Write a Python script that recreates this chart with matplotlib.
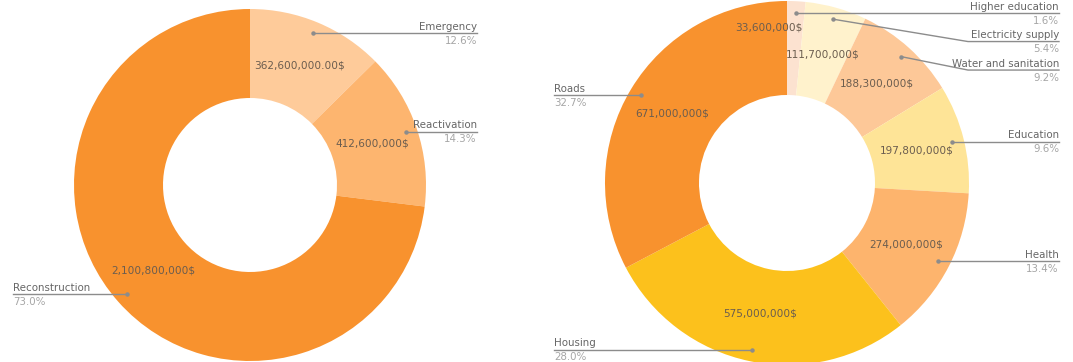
import numpy as np
import matplotlib.pyplot as plt

# ---- data ----
phase_names = ["Emergency", "Reactivation", "Reconstruction"]
phase_values = [362600000, 412600000, 2100800000]
phase_decimals = [2, 0, 0]
phase_colors = ["#FECB9A", "#FDB56F", "#F8922E"]

sector_names = ["Higher education", "Electricity supply", "Water and sanitation",
                "Education", "Health", "Housing", "Roads"]
sector_values = [33600000, 111700000, 188300000, 197800000,
                 274000000, 575000000, 671000000]
sector_decimals = [0, 0, 0, 0, 0, 0, 0]
sector_colors = ["#FCE2D0", "#FFF2CC", "#FDC898", "#FEE497",
                 "#FDB46D", "#FCC11C", "#F8922E"]

W, H = 1073, 362
NAME_C = "#666666"
PCT_C = "#A6A6A6"
VAL_C = "#6B5D4F"
LINE_C = "#8C8C8C"

fig = plt.figure(figsize=(W / 100, H / 100), dpi=100)
ax = fig.add_axes([0, 0, 1, 1])


def donut(values, names, colors, decimals, cx, cy, R, r_in, left_x, right_x,
          val_nudge=None, elbow_x=None):
    val_nudge = val_nudge or {}
    ax.pie(values, colors=colors, startangle=90, counterclock=False,
           radius=R, center=(cx, cy), wedgeprops=dict(width=R - r_in, linewidth=0))
    total = float(sum(values))
    frac = np.array(values) / total
    mids = 90 - 360 * (np.cumsum(frac) - frac / 2)

    # value labels inside the ring
    for i, (v, a) in enumerate(zip(values, mids)):
        da, rr = val_nudge.get(i, (0, 0.735))
        t = np.radians(a + da)
        ax.text(cx + rr * R * np.cos(t), cy + rr * R * np.sin(t),
                f"{v:,.{decimals[i]}f}$", ha="center", va="center",
                fontsize=7.6, color=VAL_C)

    # outside labels with leader lines
    prev_right = H - 13 + 28.5
    for i, a in enumerate(mids):
        t = np.radians(a)
        dx, dy = cx + 0.935 * R * np.cos(t), cy + 0.935 * R * np.sin(t)
        right = dx > cx
        ly = dy
        if right:
            ly = min(dy, prev_right - 28.5)
            prev_right = ly
        ax.plot([dx], [dy], "o", ms=2.2, color=LINE_C, zorder=5)
        if right:
            if abs(ly - dy) > 1 and elbow_x is not None:
                ax.plot([dx, elbow_x, right_x], [dy, ly, ly], color=LINE_C, lw=1.0)
            else:
                ax.plot([dx, right_x], [ly, ly], color=LINE_C, lw=1.0)
            tx, ha = right_x, "right"
        else:
            ax.plot([left_x, dx], [ly, ly], color=LINE_C, lw=1.0)
            tx, ha = left_x, "left"
        ax.text(tx, ly + 1.5, names[i], ha=ha, va="bottom", fontsize=7.4, color=NAME_C)
        ax.text(tx, ly - 2.5, f"{100 * frac[i]:.1f}%", ha=ha, va="top",
                fontsize=7.4, color=PCT_C)


donut(phase_values, phase_names, phase_colors, phase_decimals,
      cx=250, cy=H - 185, R=176, r_in=87, left_x=13, right_x=477)
donut(sector_values, sector_names, sector_colors, sector_decimals,
      cx=787, cy=H - 183, R=182, r_in=88, left_x=554, right_x=1059,
      val_nudge={0: (9.5, 0.86)}, elbow_x=968)

ax.set_xlim(0, W)
ax.set_ylim(0, H)
ax.set_aspect("equal")
ax.axis("off")

fig.savefig("out.png", dpi=100)
